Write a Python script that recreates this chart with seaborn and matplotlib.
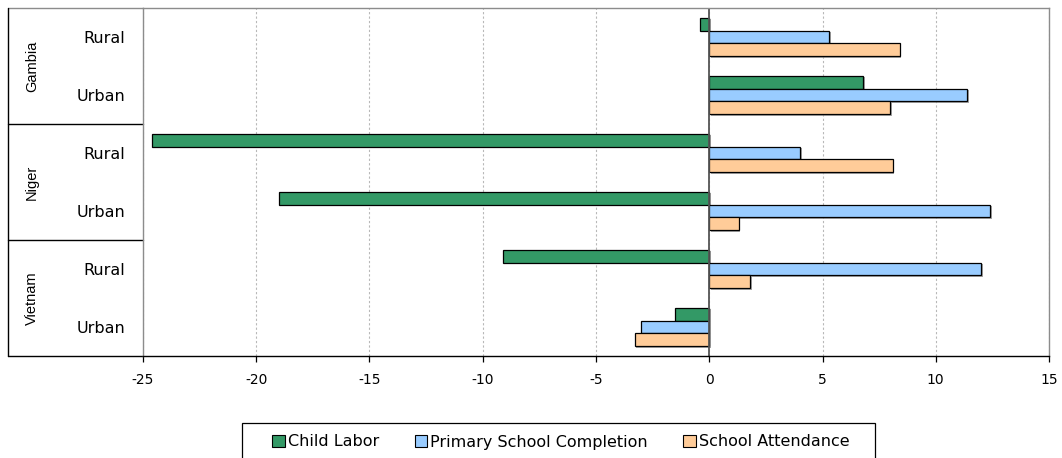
import matplotlib
matplotlib.use("Agg")
import matplotlib.pyplot as plt
import matplotlib.patheffects as pe
from matplotlib.transforms import blended_transform_factory
from matplotlib.patches import Patch, Rectangle
import pandas as pd
import seaborn as sns

# ---- data -------------------------------------------------------------
countries = ["Gambia", "Niger", "Vietnam"]
areas = ["Rural", "Urban"]
indicators = ["Child Labor", "Primary School Completion", "School Attendance"]

# values per (country, area) in the order Gambia R/U, Niger R/U, Vietnam R/U
child_labor = [-0.4, 6.8, -24.6, -19.0, -9.1, -1.5]
primary_completion = [5.3, 11.4, 4.0, 12.4, 12.0, -3.0]
school_attendance = [8.4, 8.0, 8.1, 1.3, 1.8, -3.3]

x_ticks = [-25, -20, -15, -10, -5, 0, 5, 10, 15]
colors = ["#339966", "#99CCFF", "#FFCC99"]

# ---- long-form table --------------------------------------------------
keys = [f"{c} {a}" for c in countries for a in areas]
rows = []
for series, name in zip([child_labor, primary_completion, school_attendance], indicators):
    for k, v in zip(keys, series):
        rows.append({"group": k, "indicator": name, "value": v})
df = pd.DataFrame(rows)

sns.set_theme(style="white")
plt.rcParams["font.family"] = ["DejaVu Sans"]
plt.rcParams["axes.unicode_minus"] = False
plt.rcParams["text.color"] = "black"
plt.rcParams["xtick.color"] = "black"
plt.rcParams["ytick.color"] = "black"

fig = plt.figure(figsize=(10.62, 4.58), dpi=100)
W, H = 1062, 458
ax_l, ax_r, ax_t, ax_b = 143, 1049, 8, 356
ax = fig.add_axes([ax_l / W, 1 - ax_b / H, (ax_r - ax_l) / W, (ax_b - ax_t) / H])

sns.barplot(data=df, y="group", x="value", hue="indicator", order=keys,
            hue_order=indicators, palette=colors, orient="h", width=0.67,
            edgecolor="black", linewidth=0.9, saturation=1, ax=ax)
if ax.get_legend() is not None:
    ax.get_legend().remove()

shadow = [pe.SimplePatchShadow(offset=(1.2, -1.2), shadow_rgbFace="#7f7f7f", alpha=0.7),
          pe.Normal()]
for p in ax.patches:
    p.set_path_effects(shadow)

ax.set_xlim(-25, 15)
ax.set_ylim(5.5, -0.5)
ax.set_xticks(x_ticks)
ax.set_xticklabels([str(t) for t in x_ticks], fontsize=10)
ax.set_yticks(range(len(keys)))
ax.set_yticklabels([k.split(" ")[1] for k in keys], fontsize=11.5)
ax.set_xlabel("")
ax.set_ylabel("")

ax.grid(axis="x", linestyle=(0, (2, 2)), color="#b8b8b8", linewidth=0.8)
ax.grid(axis="y", visible=False)
ax.set_axisbelow(True)
ax.axvline(0, color="#555555", linewidth=1.3, zorder=1.5)

ax.tick_params(axis="x", direction="out", length=4, width=0.9, color="black",
               pad=8, bottom=True, labelcolor="black")
ax.tick_params(axis="y", length=0, pad=13, labelcolor="black")

for s in ["top", "right", "left"]:
    ax.spines[s].set_color("#8c8c8c")
    ax.spines[s].set_linewidth(1.0)
ax.spines["bottom"].set_color("black")
ax.spines["bottom"].set_linewidth(1.0)

# multi-level category frame on the left
tr = blended_transform_factory(ax.transAxes, ax.transData)
x0 = (8 - ax_l) / (ax_r - ax_l)
ax.plot([x0, 0], [-0.5, -0.5], transform=tr, color="#8c8c8c", lw=1.0, clip_on=False)
ax.plot([x0, 0], [5.5, 5.5], transform=tr, color="black", lw=1.0, clip_on=False)
ax.plot([x0, x0], [-0.5, 5.5], transform=tr, color="black", lw=1.0, clip_on=False)
for yb in [1.5, 3.5]:
    ax.plot([x0, 0], [yb, yb], transform=tr, color="black", lw=1.0, clip_on=False)
xg = (32 - ax_l) / (ax_r - ax_l)
for i, c in enumerate(countries):
    ax.text(xg, 2 * i + 0.5, c, transform=tr, rotation=90, ha="center",
            va="center", fontsize=10.5, color="black",
            family=["Liberation Sans", "DejaVu Sans"])

# legend below the plot, box runs past the bottom edge of the figure
fig.add_artist(Rectangle((242 / W, -0.05), (875 - 242) / W, 0.05 + (458 - 423) / H,
                         transform=fig.transFigure, facecolor="white",
                         edgecolor="black", linewidth=0.9, zorder=0))
handles = [Patch(facecolor=col, edgecolor="black", linewidth=0.8) for col in colors]
fig.legend(handles, indicators, loc="center",
           bbox_to_anchor=(561 / W, 1 - 442 / H), ncol=3, frameon=False,
           fontsize=11.5, handlelength=0.8, handleheight=0.7,
           handletextpad=0.2, columnspacing=2.2, borderpad=0.2,
           labelcolor="black")

fig.savefig("out.png", dpi=100)
